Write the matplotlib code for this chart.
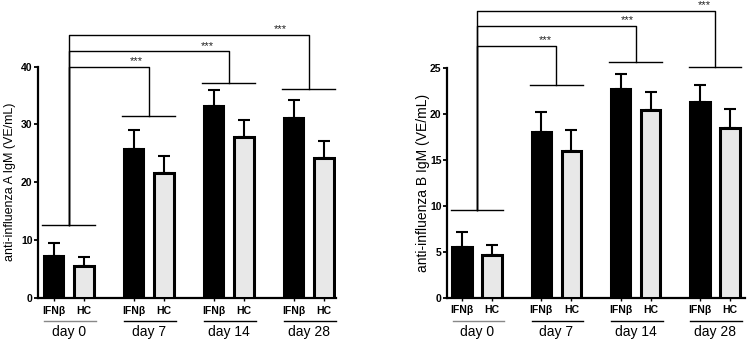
import numpy as np
import matplotlib.pyplot as plt

plt.rcParams['font.family'] = ['Liberation Sans', 'DejaVu Sans']

days = ["day 0", "day 7", "day 14", "day 28"]
groups = ["IFNβ", "HC"]

# anti-influenza A IgM (VE/mL)
flu_a_ifn = [7.2, 25.7, 33.1, 31.1]
flu_a_ifn_err = [2.3, 3.3, 2.9, 3.1]
flu_a_hc = [5.6, 21.6, 27.8, 24.2]
flu_a_hc_err = [1.4, 2.9, 2.9, 3.0]
# bracket levels: day 0 base, then day 7/14/28 base and top
flu_a_base = [12.6, 31.5, 37.2, 36.2]
flu_a_top = [40.0, 42.6, 45.5]
flu_a_ticks = [0, 10, 20, 30, 40]

# anti-influenza B IgM (VE/mL)
flu_b_ifn = [5.5, 18.0, 22.7, 21.3]
flu_b_ifn_err = [1.6, 2.2, 1.7, 1.8]
flu_b_hc = [4.6, 16.0, 20.4, 18.5]
flu_b_hc_err = [1.1, 2.2, 2.0, 2.0]
flu_b_base = [9.5, 23.2, 25.6, 25.1]
flu_b_top = [27.4, 29.6, 31.2]
flu_b_ticks = [0, 5, 10, 15, 20, 25]

stars = ["***", "***", "***"]


def panel(ax, ifn, ifn_err, hc, hc_err, base, top, ticks, ylabel, ymax, xlim,
          star_dx, star_dy, ylab_size, ylab_x):
    x = np.arange(len(days))
    off = 0.19
    w = 0.245
    ax.bar(x - off, ifn, w, color="black", edgecolor="black", linewidth=2.2, zorder=3)
    ax.bar(x + off, hc, w, color="#e8e8e8", edgecolor="black", linewidth=2.2, zorder=3)
    ax.errorbar(x - off, ifn, yerr=[np.zeros(4), ifn_err], fmt="none", ecolor="black",
                elinewidth=1.5, capsize=4.5, capthick=1.5, zorder=2)
    ax.errorbar(x + off, hc, yerr=[np.zeros(4), hc_err], fmt="none", ecolor="black",
                elinewidth=1.5, capsize=4.5, capthick=1.5, zorder=2)

    # significance brackets
    lw = 1.0
    for i in range(4):
        ax.plot([x[i] - 0.33, x[i] + 0.33], [base[i], base[i]], color="black", lw=lw,
                clip_on=False)
    for j in range(3):
        i = j + 1
        ax.plot([x[0], x[0], x[i], x[i]], [base[0], top[j], top[j], base[i]],
                color="black", lw=lw, clip_on=False)
        ax.text(x[i] + star_dx[j], top[j] + star_dy, stars[j], ha="center", va="bottom",
                fontsize=8, color="#222222")

    ax.set_xlim(*xlim)
    ax.set_ylim(0, ymax)
    for s in ["top", "right"]:
        ax.spines[s].set_visible(False)
    ax.spines["left"].set_bounds(0, ticks[-1])
    ax.spines["left"].set_linewidth(1.6)
    ax.spines["bottom"].set_linewidth(1.6)
    ax.set_yticks(ticks)
    ax.set_yticklabels([str(v) for v in ticks], fontsize=7.5, fontweight="bold")
    ax.tick_params(axis="y", length=3, width=1.3, pad=1)
    ax.set_xticks(np.concatenate([x - off, x + off]))
    ax.set_xticklabels([groups[0]] * 4 + [groups[1]] * 4, fontsize=7.5, fontweight="bold")
    ax.tick_params(axis="x", length=2.5, width=1.0, pad=3)
    ax.set_ylabel(ylabel, fontsize=ylab_size, va="center")
    ax.yaxis.set_label_coords(ylab_x, ticks[-1] / 2 / ymax)

    # day underlines and labels
    tr = ax.get_xaxis_transform()
    for i in range(4):
        col = "#888888" if i == 0 else "black"
        ax.plot([x[i] - 0.31, x[i] + 0.34], [-0.077, -0.077], transform=tr, color=col,
                lw=1.0, clip_on=False)
        ax.text(x[i], -0.114, days[i], transform=tr, ha="center", va="center",
                fontsize=10)


fig = plt.figure(figsize=(7.48, 3.43), dpi=100)
ax1 = fig.add_axes([0.0508, 0.1312, 0.3984, 0.8688])
ax2 = fig.add_axes([0.5976, 0.132, 0.3984, 0.868])

panel(ax1, flu_a_ifn, flu_a_ifn_err, flu_a_hc, flu_a_hc_err, flu_a_base, flu_a_top,
      flu_a_ticks, "anti-influenza A IgM (VE/mL)", 51.5, (-0.384, 3.34),
      [-0.15, -0.27, -0.36], 0.1, 9, -0.094)
panel(ax2, flu_b_ifn, flu_b_ifn_err, flu_b_hc, flu_b_hc_err, flu_b_base, flu_b_top,
      flu_b_ticks, "anti-influenza B IgM (VE/mL)", 32.4, (-0.38, 3.38),
      [-0.14, -0.1, -0.13], 0.05, 10, -0.08)

fig.savefig("out.png", dpi=100)
